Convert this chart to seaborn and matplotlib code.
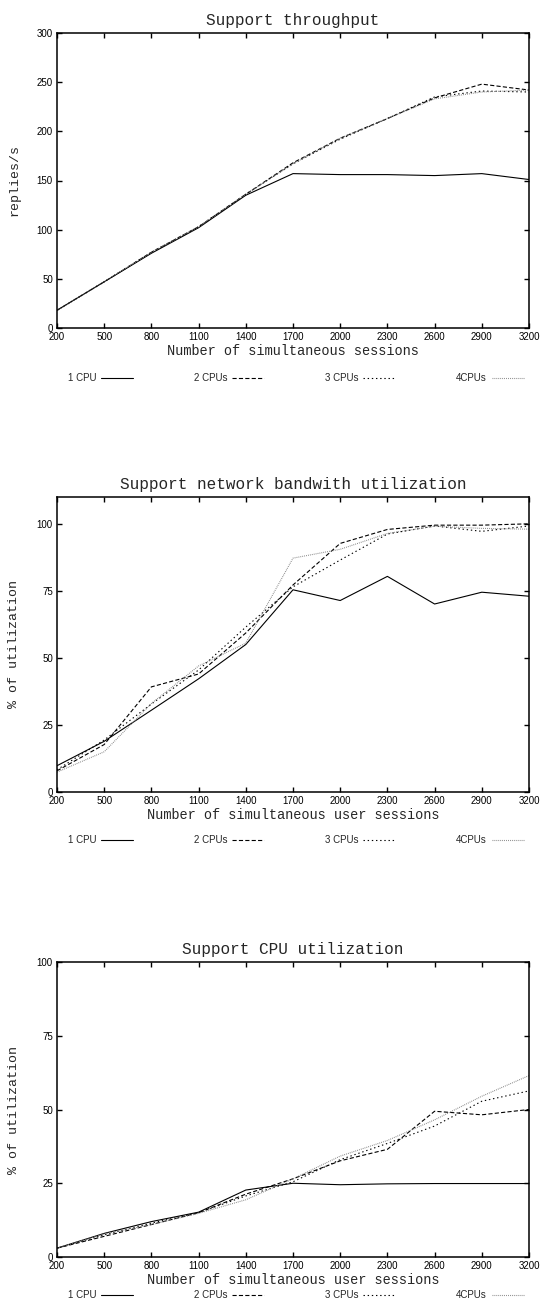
import matplotlib
matplotlib.use("Agg")
import matplotlib.pyplot as plt
import seaborn as sns
import pandas as pd

# Number of simultaneous sessions (x axis, shared by all panels)
sessions = [200, 500, 800, 1100, 1400, 1700, 2000, 2300, 2600, 2900, 3200]
series_names = ["1 CPU", "2 CPUs", "3 CPUs", "4CPUs"]

# Support throughput (replies/s)
thr_1cpu = [18, 47, 76, 102, 135, 157, 156, 156, 155, 157, 151]
thr_2cpu = [18, 47, 77, 103, 136, 168, 193, 213, 234, 248, 242]
thr_3cpu = [18, 47, 77, 103, 136, 167, 192, 213, 235, 241, 240]
thr_4cpu = [18, 47, 77, 103, 136, 167, 193, 213, 233, 240, 242]

# Support network bandwidth utilization (%)
net_1cpu = [9.8, 18.9, 30.5, 42.2, 55.0, 75.4, 71.4, 80.4, 70.1, 74.5, 73.0]
net_2cpu = [7.9, 17.7, 39.2, 44.0, 59.3, 77.2, 92.7, 97.9, 99.5, 99.5, 100.0]
net_3cpu = [8.3, 19.4, 32.8, 45.5, 61.5, 76.5, 86.5, 96.2, 99.2, 97.2, 99.2]
net_4cpu = [7.4, 15.0, 33.0, 47.0, 55.5, 87.2, 90.5, 96.4, 99.1, 98.3, 98.0]

# Support CPU utilization (%)
cpu_1cpu = [3.0, 8.0, 12.0, 15.2, 22.7, 25.0, 24.5, 24.8, 24.9, 24.9, 24.9]
cpu_2cpu = [3.0, 7.0, 11.0, 15.0, 21.3, 26.5, 32.6, 36.5, 49.4, 48.2, 50.0]
cpu_3cpu = [3.0, 7.5, 11.5, 15.0, 20.7, 25.5, 33.0, 38.5, 44.4, 52.8, 56.3]
cpu_4cpu = [3.0, 7.8, 11.0, 14.8, 19.4, 26.5, 34.2, 39.5, 46.5, 54.5, 61.5]

sns.set_style("ticks")
plt.rcParams["font.family"] = ["Liberation Sans", "DejaVu Sans"]
plt.rcParams["lines.scale_dashes"] = False

MONO = "Liberation Mono"

palette = {"1 CPU": "black", "2 CPUs": "black", "3 CPUs": "black", "4CPUs": "#808080"}
dashes = {"1 CPU": "", "2 CPUs": (3.0, 1.6), "3 CPUs": (1.0, 2.0), "4CPUs": (0.6, 0.8)}


def long_frame(values):
    rows = []
    for name, ys in zip(series_names, values):
        for x, y in zip(sessions, ys):
            rows.append({"sessions": x, "value": y, "series": name})
    return pd.DataFrame(rows)


panels = [
    dict(values=[thr_1cpu, thr_2cpu, thr_3cpu, thr_4cpu], title="Support throughput",
         ylabel="replies/s", xlabel="Number of simultaneous sessions",
         ylim=(0, 300), yticks=[0, 50, 100, 150, 200, 250, 300], top=33, legend_y=-0.17),
    dict(values=[net_1cpu, net_2cpu, net_3cpu, net_4cpu],
         title="Support network bandwith utilization",
         ylabel="% of utilization", xlabel="Number of simultaneous user sessions",
         ylim=(0, 110), yticks=[0, 25, 50, 75, 100], top=497, legend_y=-0.163),
    dict(values=[cpu_1cpu, cpu_2cpu, cpu_3cpu, cpu_4cpu], title="Support CPU utilization",
         ylabel="% of utilization", xlabel="Number of simultaneous user sessions",
         ylim=(0, 100), yticks=[0, 25, 50, 75, 100], top=962, legend_y=-0.13),
]

W, H = 542, 1313
fig = plt.figure(figsize=(W / 100, H / 100), dpi=100)

left_px, right_px, height_px = 57, 529, 295

for p in panels:
    ax = fig.add_axes([left_px / W, 1 - (p["top"] + height_px) / H,
                       (right_px - left_px) / W, height_px / H])
    df = long_frame(p["values"])
    sns.lineplot(data=df, x="sessions", y="value", hue="series", style="series",
                 palette=palette, dashes=dashes, linewidth=0.8, legend=False,
                 ax=ax, hue_order=series_names, style_order=series_names)
    ax.set_xlim(200, 3200)
    ax.set_ylim(*p["ylim"])
    ax.set_xticks(sessions)
    ax.set_yticks(p["yticks"])
    ax.tick_params(direction="in", length=3.6, width=1.0, top=True, right=True,
                   labelsize=7, pad=3, colors="black")
    for s in ax.spines.values():
        s.set_linewidth(1.1)
        s.set_color("black")
    ax.set_title(p["title"], family=MONO, fontsize=11.5, pad=6)
    ax.set_xlabel(p["xlabel"], family=MONO, fontsize=9.8, labelpad=1)
    ax.set_ylabel(p["ylabel"], family=MONO, fontsize=9.5)
    ax.yaxis.set_label_coords(-0.078, 0.5)

    handles = ax.get_lines()[:4]
    ax.legend(handles, series_names, ncol=4, markerfirst=False, frameon=False,
              fontsize=7, handlelength=3.3, handletextpad=0.5, columnspacing=6.25,
              loc="center", bbox_to_anchor=(0.506, p["legend_y"]), borderpad=0)

fig.savefig("out.png", dpi=100)
